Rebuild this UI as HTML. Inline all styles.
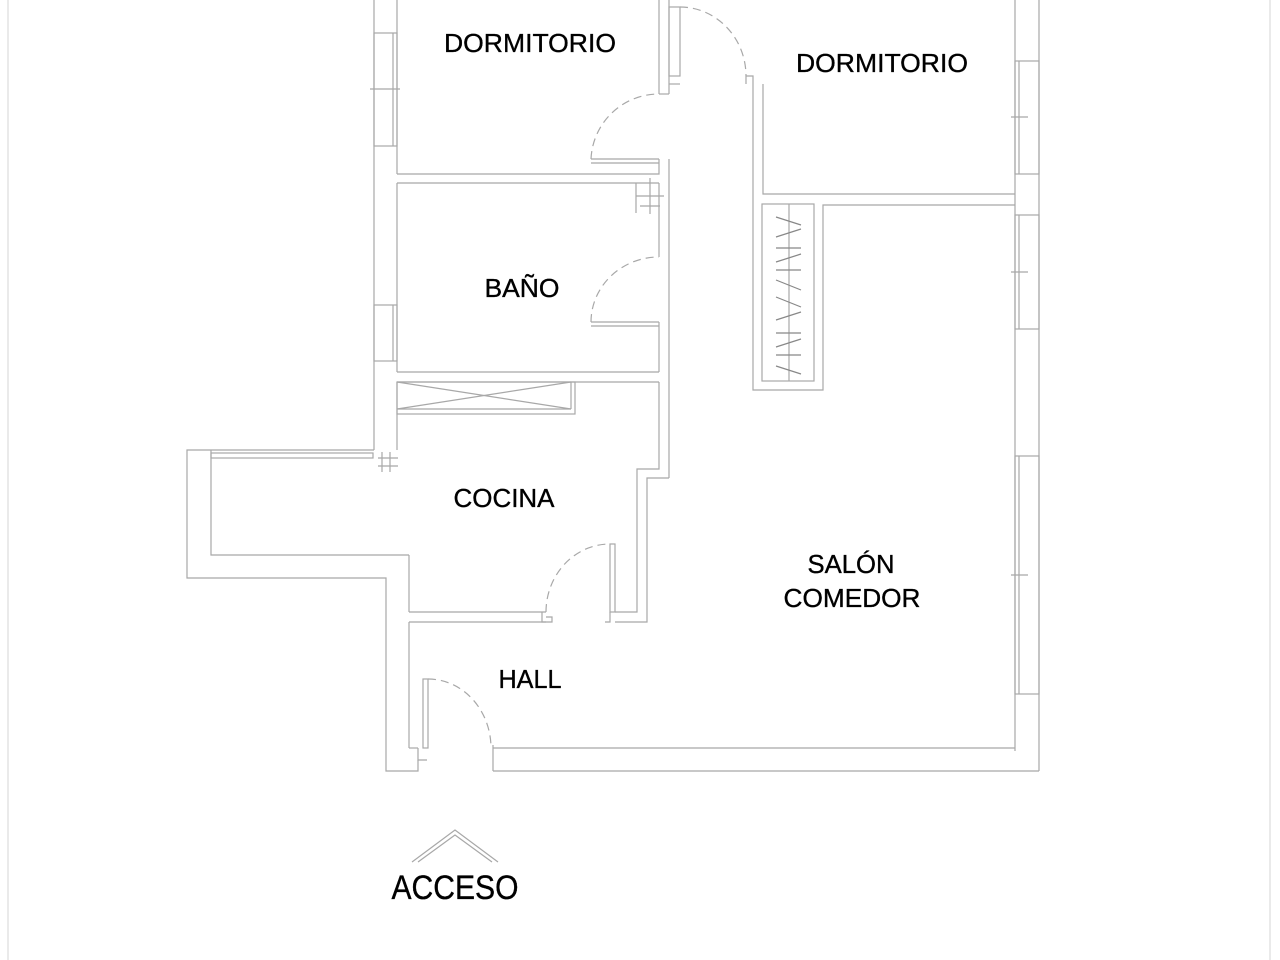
<!DOCTYPE html>
<html><head><meta charset="utf-8"><style>
html,body{margin:0;padding:0;background:#fff;width:1280px;height:960px;overflow:hidden}
svg{display:block}
text{font-family:"Liberation Sans",sans-serif;fill:#000;stroke:#000;stroke-width:0.35}
</style></head><body>
<svg width="1280" height="960" viewBox="0 0 1280 960" xmlns="http://www.w3.org/2000/svg">
<g fill="none" stroke="#a8a8a8" stroke-width="1.2">
<line x1="8" y1="0" x2="8" y2="960" stroke="#ddd"/>
<line x1="1270" y1="0" x2="1270" y2="960" stroke="#ddd"/>

<line x1="374" y1="0" x2="374" y2="450"/>
<line x1="397" y1="0" x2="397" y2="174"/>
<line x1="397" y1="183" x2="397" y2="372"/>
<line x1="397" y1="382" x2="397" y2="450"/>
<rect x="374" y="33" width="23" height="113"/>
<line x1="393" y1="33" x2="393" y2="146"/><line x1="370" y1="89" x2="400" y2="89"/>
<rect x="374" y="305" width="23" height="56"/>
<line x1="393" y1="305" x2="393" y2="361"/>

<polyline points="397,174 659,174 659,159"/>
<line x1="397" y1="183" x2="659" y2="183"/>
<line x1="397" y1="372" x2="659" y2="372"/>
<line x1="397" y1="382" x2="659" y2="382"/>
<line x1="659" y1="0" x2="659" y2="94"/>
<line x1="669" y1="0" x2="669" y2="94"/>
<polyline points="659,94 669,94"/>
<line x1="591" y1="159" x2="659" y2="159"/>
<line x1="591" y1="163" x2="659" y2="163"/>
<path d="M591,159 A68,68 0 0 1 659,94" stroke-dasharray="8,5"/>
<line x1="669" y1="159" x2="669" y2="478"/>
<line x1="659" y1="183" x2="659" y2="257"/>
<line x1="659" y1="322" x2="659" y2="372"/>
<line x1="591" y1="322" x2="659" y2="322"/>
<line x1="591" y1="326" x2="659" y2="326"/>
<path d="M591,322 A68,65 0 0 1 659,257" stroke-dasharray="8,5"/>
<path d="M636,183 v30 M636,196 h28 M650,178 v36 M640,206 h20"/>
<rect x="669" y="7" width="11" height="69"/>
<path d="M680,7 A66,69 0 0 1 746,76" stroke-dasharray="8,5"/>
<polyline points="746,84 746,76 753,76 753,390 823,390 823,205 1015,205"/>
<line x1="680" y1="84" x2="669" y2="84"/>
<polyline points="763,84 763,194 1015,194"/>
<line x1="1015" y1="0" x2="1015" y2="751"/>
<line x1="1039" y1="0" x2="1039" y2="771"/>
<rect x="1015" y="61" width="24" height="113"/><line x1="1019" y1="61" x2="1019" y2="174"/><line x1="1011" y1="117" x2="1028" y2="117"/>
<rect x="1015" y="215" width="24" height="114"/><line x1="1019" y1="215" x2="1019" y2="329"/><line x1="1011" y1="272" x2="1028" y2="272"/>
<rect x="1015" y="456" width="24" height="238"/><line x1="1019" y1="456" x2="1019" y2="694"/><line x1="1011" y1="575" x2="1028" y2="575"/>
<rect x="762" y="204" width="52" height="177"/>
<line x1="789" y1="204" x2="789" y2="381"/>
<path d="M776,217 L801,225 M776,237 L801,229 M776,248 H801 M776,262 L801,254 M776,270 H801 M776,280 L801,290 M776,297 L801,307 M776,320 L801,312 M776,333 H801 M776,347 L801,339 M776,355 H801 M776,366 L801,374" stroke="#888"/>

<rect x="397" y="382" width="178" height="32"/>
<line x1="397" y1="409" x2="571" y2="409"/><line x1="571" y1="382" x2="571" y2="409"/>
<line x1="397" y1="382" x2="571" y2="409"/><line x1="397" y1="409" x2="571" y2="382"/>
<polyline points="659,382 659,469 637,469 637,612 615,612"/>
<polyline points="669,478 647,478 647,622 615,622"/>
<line x1="546" y1="612" x2="409" y2="612"/>
<polyline points="409,555 409,612"/>
<line x1="409" y1="622" x2="546" y2="622"/>
<rect x="610" y="544" width="5" height="68"/>
<path d="M546,612 A64,68 0 0 1 610,544" stroke-dasharray="8,5"/>
<path d="M542,612 v10 h10 v-5 h-6 M610,612 v10 h-5"/>
<polyline points="374,450 187,450 187,578 386,578 386,771 418,771 418,760"/>
<polyline points="211,450 211,555 409,555"/>
<rect x="211" y="453" width="162" height="5"/>
<path d="M378,458 h20 M378,466 h20 M382,452 v20 M390,452 v20"/>
<line x1="409" y1="622" x2="409" y2="748"/>
<line x1="409" y1="748" x2="418" y2="748"/>
<rect x="423" y="679" width="5" height="69"/>
<path d="M428,679 A63,69 0 0 1 491,748" stroke-dasharray="8,5"/>
<path d="M418,748 v12 h9 M493,745 v26"/>
<line x1="493" y1="748" x2="1015" y2="748"/>
<line x1="493" y1="771" x2="1039" y2="771"/>
<polyline points="412,862 455,830 498,862"/>
<polyline points="418,862 455,835 492,862"/>
</g>
<g font-size="26">
<text x="530" y="52" text-anchor="middle" textLength="172" lengthAdjust="spacingAndGlyphs">DORMITORIO</text>
<text x="882" y="72" text-anchor="middle" textLength="172" lengthAdjust="spacingAndGlyphs">DORMITORIO</text>
<text x="522" y="297" text-anchor="middle" textLength="75" lengthAdjust="spacingAndGlyphs">BAÑO</text>
<text x="504" y="507" text-anchor="middle" textLength="101" lengthAdjust="spacingAndGlyphs">COCINA</text>
<text x="851" y="573" text-anchor="middle" textLength="87" lengthAdjust="spacingAndGlyphs">SALÓN</text>
<text x="852" y="607" text-anchor="middle" textLength="137" lengthAdjust="spacingAndGlyphs">COMEDOR</text>
<text x="530" y="688" text-anchor="middle" textLength="63" lengthAdjust="spacingAndGlyphs">HALL</text>
<text x="455" y="899" font-size="34" text-anchor="middle" textLength="127" lengthAdjust="spacingAndGlyphs">ACCESO</text>
</g>
</svg>
</body></html>
